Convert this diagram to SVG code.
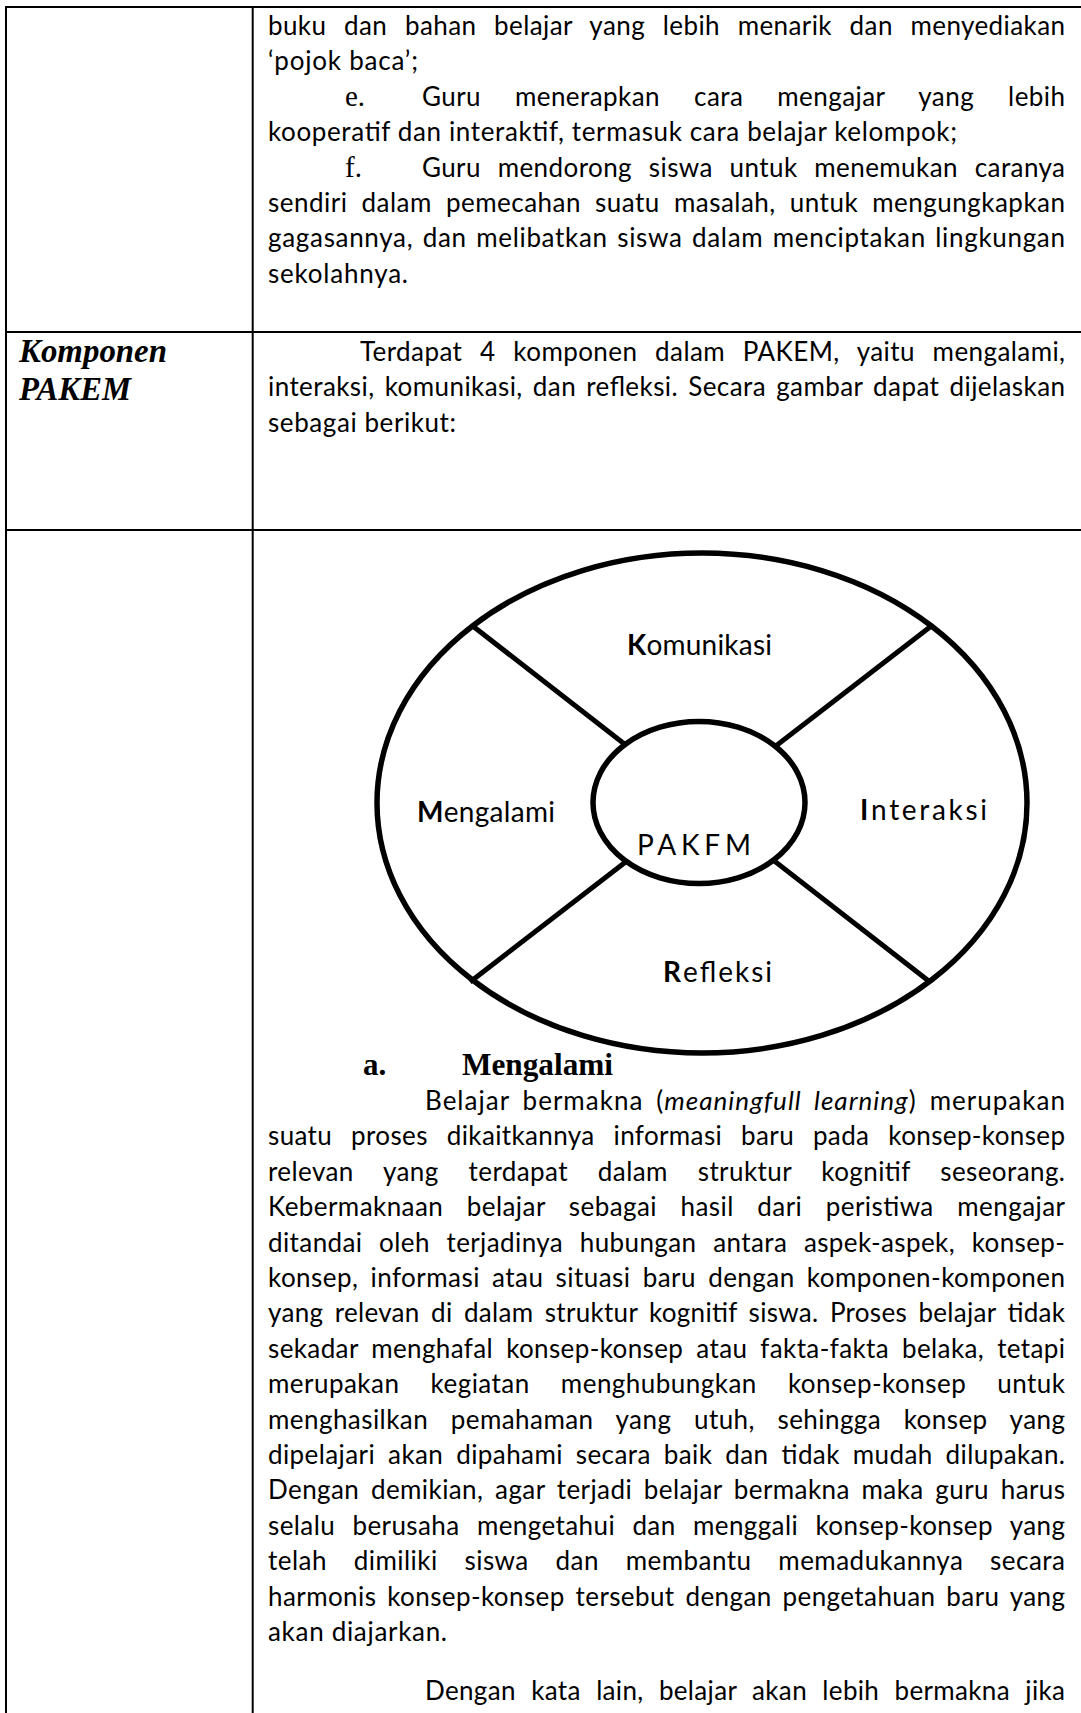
<svg xmlns="http://www.w3.org/2000/svg" width="1081" height="1713" viewBox="0 0 1081 1713">
<style>
.b{font-family:Lato,'Open Sans',sans-serif;font-size:26px;fill:#000}
.i{font-style:italic}
.tm{font-family:'Liberation Serif','Times New Roman',serif;fill:#000}
.lbl{font-family:'Comic Sans MS',Lato,sans-serif;font-size:28px;fill:#000}
.tbl{stroke:#000;stroke-width:2;fill:none}
.ring{stroke:#000;stroke-width:5.5;fill:none}
.hub{stroke:#000;stroke-width:5.5;fill:#fff}
.spoke{stroke:#000;stroke-width:5;fill:none;stroke-linecap:butt}
</style>
<rect width="1081" height="1713" fill="#fff"/>
<g id="table" class="tbl">
<line x1="5" y1="7" x2="1081" y2="7"/>
<line x1="6" y1="6" x2="6" y2="1713"/>
<line x1="252.7" y1="6" x2="252.7" y2="1713"/>
<line x1="5" y1="332" x2="1081" y2="332"/>
<line x1="5" y1="530" x2="1081" y2="530"/>
</g>
<g id="cell-1">
<text class="b" x="268" y="35" textLength="797" lengthAdjust="spacing" word-spacing="10.6">buku dan bahan belajar yang lebih menarik dan menyediakan</text>
<text class="b" x="268" y="70.4" textLength="150" lengthAdjust="spacing">‘pojok baca’;</text>
<text class="tm" x="345" y="105.8" font-size="29">e.</text>
<text class="b" x="422" y="105.8" textLength="643" lengthAdjust="spacing" word-spacing="26.9">Guru menerapkan cara mengajar yang lebih</text>
<text class="b" x="268" y="141.2" textLength="689" lengthAdjust="spacing">kooperatif dan interaktif, termasuk cara belajar kelompok;</text>
<text class="tm" x="345" y="176.6" font-size="29">f.</text>
<text class="b" x="422" y="176.6" textLength="643" lengthAdjust="spacing" word-spacing="9.7">Guru mendorong siswa untuk menemukan caranya</text>
<text class="b" x="268" y="212" textLength="797" lengthAdjust="spacing" word-spacing="7">sendiri dalam pemecahan suatu masalah, untuk mengungkapkan</text>
<text class="b" x="268" y="247.4" textLength="797" lengthAdjust="spacing" word-spacing="2.1">gagasannya, dan melibatkan siswa dalam menciptakan lingkungan</text>
<text class="b" x="268" y="282.8" textLength="140" lengthAdjust="spacing">sekolahnya.</text>
</g>
<g id="label-komponen">
<text class="tm" x="19" y="362" font-size="33" font-weight="bold" font-style="italic" textLength="148" lengthAdjust="spacingAndGlyphs">Komponen</text>
<text class="tm" x="19" y="400" font-size="33" font-weight="bold" font-style="italic" textLength="112" lengthAdjust="spacingAndGlyphs">PAKEM</text>
</g>
<g id="cell-2">
<text class="b" x="360" y="361" textLength="705" lengthAdjust="spacing" word-spacing="10.7">Terdapat 4 komponen dalam PAKEM, yaitu mengalami,</text>
<text class="b" x="268" y="396.4" textLength="797" lengthAdjust="spacing" word-spacing="3.1">interaksi, komunikasi, dan refleksi. Secara gambar dapat dijelaskan</text>
<text class="b" x="268" y="431.8" textLength="188" lengthAdjust="spacing">sebagai berikut:</text>
</g>
<g id="outer-ring">
<ellipse class="ring" cx="702" cy="803" rx="325" ry="250"/>
</g>
<g id="connectors">
<line class="spoke" x1="474" y1="627" x2="645" y2="760"/>
<line class="spoke" x1="930" y1="627" x2="755" y2="762"/>
<line class="spoke" x1="470" y1="982" x2="645" y2="847"/>
<line class="spoke" x1="930" y1="982" x2="755" y2="846"/>
</g>
<g id="node-pakem">
<ellipse class="hub" cx="699" cy="802.5" rx="106" ry="81"/>
<text class="lbl" x="637" y="855" textLength="114" lengthAdjust="spacing">PAKFM</text>
</g>
<g id="node-komunikasi">
<text class="lbl" x="627" y="655" textLength="145" lengthAdjust="spacing"><tspan font-weight="bold">K</tspan>omunikasi</text>
</g>
<g id="node-mengalami">
<text class="lbl" x="417" y="822" textLength="138" lengthAdjust="spacing"><tspan font-weight="bold">M</tspan>engalami</text>
</g>
<g id="node-interaksi">
<text class="lbl" x="860" y="820" textLength="127" lengthAdjust="spacing"><tspan font-weight="bold">I</tspan>nteraksi</text>
</g>
<g id="node-refleksi">
<text class="lbl" x="663" y="982" textLength="109" lengthAdjust="spacing"><tspan font-weight="bold">R</tspan>efleksi</text>
</g>
<g id="section-mengalami">
<text class="tm" x="363" y="1075" font-size="31" font-weight="bold">a.</text>
<text class="tm" x="462" y="1075" font-size="31" font-weight="bold" textLength="151" lengthAdjust="spacingAndGlyphs">Mengalami</text>
<text class="b" x="425" y="1110" textLength="640" lengthAdjust="spacing" word-spacing="5.3">Belajar bermakna (<tspan class="i">meaningfull learning</tspan>) merupakan</text>
<text class="b" x="268" y="1145.4" textLength="797" lengthAdjust="spacing" word-spacing="11.9">suatu proses dikaitkannya informasi baru pada konsep-konsep</text>
<text class="b" x="268" y="1180.8" textLength="797" lengthAdjust="spacing" word-spacing="22.8">relevan yang terdapat dalam struktur kognitif seseorang.</text>
<text class="b" x="268" y="1216.2" textLength="797" lengthAdjust="spacing" word-spacing="16.5">Kebermaknaan belajar sebagai hasil dari peristiwa mengajar</text>
<text class="b" x="268" y="1251.6" textLength="797" lengthAdjust="spacing" word-spacing="9.6">ditandai oleh terjadinya hubungan antara aspek-aspek, konsep-</text>
<text class="b" x="268" y="1287" textLength="797" lengthAdjust="spacing" word-spacing="5.1">konsep, informasi atau situasi baru dengan komponen-komponen</text>
<text class="b" x="268" y="1322.4" textLength="797" lengthAdjust="spacing" word-spacing="4.5">yang relevan di dalam struktur kognitif siswa. Proses belajar tidak</text>
<text class="b" x="268" y="1357.8" textLength="797" lengthAdjust="spacing" word-spacing="6">sekadar menghafal konsep-konsep atau fakta-fakta belaka, tetapi</text>
<text class="b" x="268" y="1393.2" textLength="797" lengthAdjust="spacing" word-spacing="24">merupakan kegiatan menghubungkan konsep-konsep untuk</text>
<text class="b" x="268" y="1428.6" textLength="797" lengthAdjust="spacing" word-spacing="15.5">menghasilkan pemahaman yang utuh, sehingga konsep yang</text>
<text class="b" x="268" y="1464" textLength="797" lengthAdjust="spacing" word-spacing="5.9">dipelajari akan dipahami secara baik dan tidak mudah dilupakan.</text>
<text class="b" x="268" y="1499.4" textLength="797" lengthAdjust="spacing" word-spacing="4.7">Dengan demikian, agar terjadi belajar bermakna maka guru harus</text>
<text class="b" x="268" y="1534.8" textLength="797" lengthAdjust="spacing" word-spacing="10.3">selalu berusaha mengetahui dan menggali konsep-konsep yang</text>
<text class="b" x="268" y="1570.2" textLength="797" lengthAdjust="spacing" word-spacing="19.6">telah dimiliki siswa dan membantu memadukannya secara</text>
<text class="b" x="268" y="1605.6" textLength="797" lengthAdjust="spacing" word-spacing="3.8">harmonis konsep-konsep tersebut dengan pengetahuan baru yang</text>
<text class="b" x="268" y="1641" textLength="179" lengthAdjust="spacing">akan diajarkan.</text>
<text class="b" x="425" y="1700" textLength="640" lengthAdjust="spacing" word-spacing="8.4">Dengan kata lain, belajar akan lebih bermakna jika</text>
</g>
</svg>
